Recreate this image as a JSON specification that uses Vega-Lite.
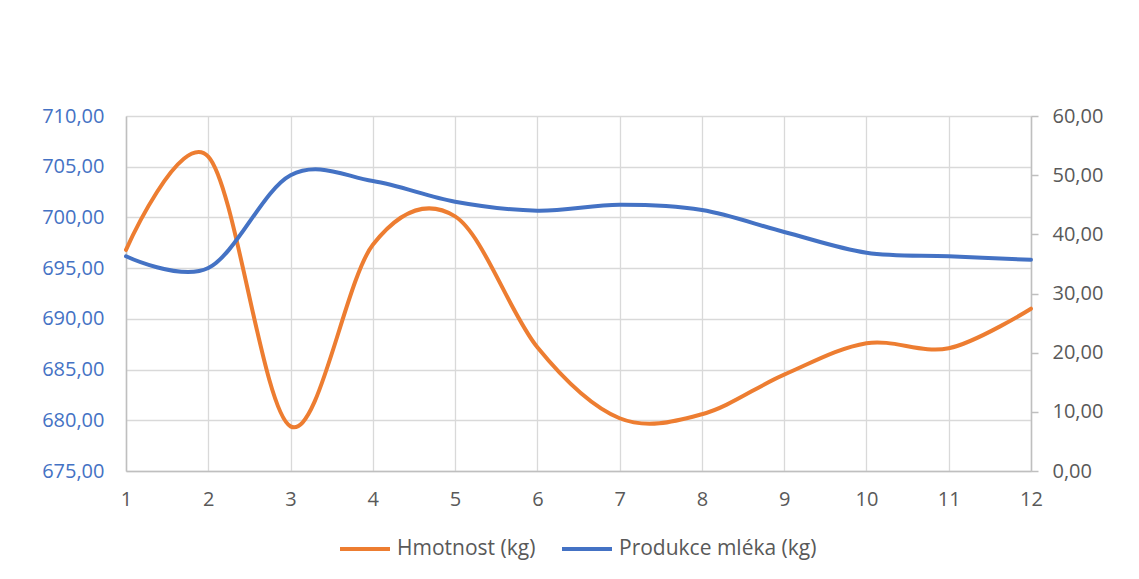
{
  "$schema": "https://vega.github.io/schema/vega-lite/v6.json",
  "autosize": {"type": "none"},
  "padding": {"left": 126, "top": 116, "right": 108, "bottom": 108},
  "width": 905,
  "height": 355,
  "background": "white",
  "config": {
    "font": "Open Sans",
    "view": {"stroke": null},
    "axis": {"gridColor": "#D9D9D9", "gridWidth": 1.3, "domainColor": "#BFBFBF", "domainWidth": 1.5, "labelFont": "Open Sans", "labelFontSize": 20, "labelColor": "#595959", "titleFontSize": 0}
  },
  "data": {
    "values": [
      {"x": 1, "series": "Hmotnost (kg)", "w": 696.8, "m": null},
      {"x": 2, "series": "Hmotnost (kg)", "w": 706.0, "m": null},
      {"x": 3, "series": "Hmotnost (kg)", "w": 679.4, "m": null},
      {"x": 4, "series": "Hmotnost (kg)", "w": 697.3, "m": null},
      {"x": 5, "series": "Hmotnost (kg)", "w": 700.1, "m": null},
      {"x": 6, "series": "Hmotnost (kg)", "w": 687.2, "m": null},
      {"x": 7, "series": "Hmotnost (kg)", "w": 680.2, "m": null},
      {"x": 8, "series": "Hmotnost (kg)", "w": 680.6, "m": null},
      {"x": 9, "series": "Hmotnost (kg)", "w": 684.5, "m": null},
      {"x": 10, "series": "Hmotnost (kg)", "w": 687.6, "m": null},
      {"x": 11, "series": "Hmotnost (kg)", "w": 687.1, "m": null},
      {"x": 12, "series": "Hmotnost (kg)", "w": 691.0, "m": null},
      {"x": 1, "series": "Produkce mléka (kg)", "w": null, "m": 36.3},
      {"x": 2, "series": "Produkce mléka (kg)", "w": null, "m": 34.3},
      {"x": 3, "series": "Produkce mléka (kg)", "w": null, "m": 50.0},
      {"x": 4, "series": "Produkce mléka (kg)", "w": null, "m": 49.0},
      {"x": 5, "series": "Produkce mléka (kg)", "w": null, "m": 45.5},
      {"x": 6, "series": "Produkce mléka (kg)", "w": null, "m": 44.0},
      {"x": 7, "series": "Produkce mléka (kg)", "w": null, "m": 45.0},
      {"x": 8, "series": "Produkce mléka (kg)", "w": null, "m": 44.1},
      {"x": 9, "series": "Produkce mléka (kg)", "w": null, "m": 40.4},
      {"x": 10, "series": "Produkce mléka (kg)", "w": null, "m": 36.9},
      {"x": 11, "series": "Produkce mléka (kg)", "w": null, "m": 36.3},
      {"x": 12, "series": "Produkce mléka (kg)", "w": null, "m": 35.7}
    ]
  },
  "encoding": {
    "x": {
      "field": "x", "type": "quantitative",
      "scale": {"domain": [1, 12], "nice": false, "zero": false},
      "axis": {"values": [1,2,3,4,5,6,7,8,9,10,11,12], "title": null, "ticks": false, "labelPadding": 18, "format": "d", "labelFlush": false}
    },
    "color": {
      "field": "series", "type": "nominal",
      "scale": {"domain": ["Hmotnost (kg)", "Produkce mléka (kg)"], "range": ["#ED7D31", "#4472C4"]},
      "legend": {
        "title": null, "orient": "none", "direction": "horizontal",
        "legendX": 212, "legendY": 406,
        "symbolType": "stroke", "symbolSize": 2500, "symbolStrokeWidth": 4,
        "labelFont": "Open Sans", "labelFontSize": 21, "labelColor": "#595959", "labelLimit": 400,
        "labelOffset": 5, "columnPadding": 18
      }
    }
  },
  "layer": [
    {
      "transform": [{"filter": "datum.series === 'Hmotnost (kg)'"}],
      "mark": {"type": "line", "interpolate": "cardinal", "strokeWidth": 4, "strokeCap": "round"},
      "encoding": {
        "y": {
          "field": "w", "type": "quantitative",
          "scale": {"domain": [675, 710], "nice": false, "zero": false},
          "axis": {"values": [675,680,685,690,695,700,705,710], "title": null, "ticks": false, "labelPadding": 22, "labelColor": "#4472C4", "labelExpr": "replace(format(datum.value, '.2f'), '.', ',')", "orient": "left"}
        }
      }
    },
    {
      "transform": [{"filter": "datum.series === 'Produkce mléka (kg)'"}],
      "mark": {"type": "line", "interpolate": "cardinal", "strokeWidth": 4, "strokeCap": "round"},
      "encoding": {
        "y": {
          "field": "m", "type": "quantitative",
          "scale": {"domain": [0, 60], "nice": false},
          "axis": {"values": [0,10,20,30,40,50,60], "title": null, "grid": false, "ticks": true, "tickSize": 7, "tickColor": "#BFBFBF", "tickWidth": 1.5, "labelPadding": 14, "labelExpr": "replace(format(datum.value, '.2f'), '.', ',')", "orient": "right"}
        }
      }
    }
  ],
  "resolve": {"scale": {"y": "independent"}}
}
